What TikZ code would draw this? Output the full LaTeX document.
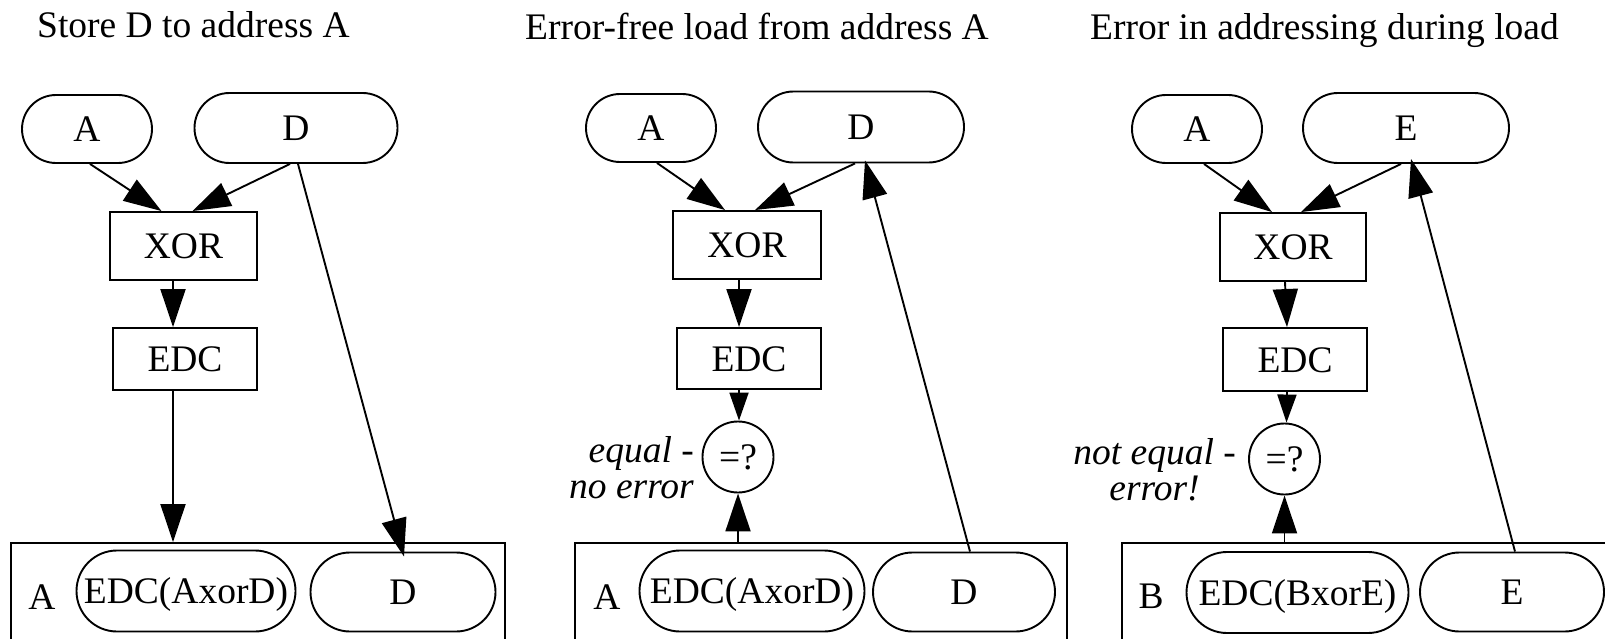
\documentclass[tikz,border=0pt]{standalone}
\usepackage{fontspec}
\setmainfont{Liberation Serif}
\usetikzlibrary{shapes.misc,arrows.meta}

\begin{document}
\begin{tikzpicture}[x=1pt,y=-1pt,
  lw/.style={line width=1.9pt},
  every node/.style={font=\fontsize{37.5}{40}\selectfont},
  pill/.style={draw, lw, rounded rectangle, minimum height=68pt, inner sep=0pt,
               text height=25pt, text depth=0pt},
  lowpill/.style={pill, minimum height=81pt},
  op/.style={draw, lw, rectangle, inner sep=0pt, minimum height=66pt,
             text height=25pt, text depth=0pt},
  cmp/.style={draw, lw, circle, minimum size=71pt, inner sep=0pt,
              text height=25pt, text depth=0pt},
  mem/.style={draw, lw, rectangle, inner sep=0pt, minimum height=107pt},
  addr/.style={anchor=base, inner sep=0pt},
  title/.style={anchor=base west, inner sep=0pt},
  note/.style={font=\fontsize{37.5}{36}\selectfont\itshape, inner sep=0pt},
  flow/.style={lw, -{Triangle[length=38pt,width=25pt]}},
  shortflow/.style={lw, -{Triangle[length=28pt,width=19pt]}},
]
\useasboundingbox (0,0) rectangle (1605,639);
\clip (0,0) rectangle (1605,639);

% ---------------- store ----------------
\node[title] (T1) at (37,38) {Store D to address A};
\node[pill, minimum width=130pt] (A1) at (87,129) {A};
\node[pill, minimum width=203pt, minimum height=70pt] (D1) at (296,128) {D};
\node[op, minimum width=147pt, minimum height=68pt] (XOR1) at (183.5,246) {XOR};
\node[op, minimum width=144pt, minimum height=62pt] (EDC1) at (185,359) {EDC};
\node[mem, minimum width=494pt] (M1) at (258,596.5) {};
\node[addr] (a1) at (42,609) {A};
\node[lowpill, minimum width=219pt] (X1) at (186,591) {EDC(AxorD)};
\node[lowpill, minimum width=185pt, minimum height=79pt] (V1) at (403,592) {D};

\draw[flow] ([xshift=3pt]A1.south) -- ([xshift=-22pt]XOR1.north);
\draw[flow] ([xshift=-6pt]D1.south) -- ([xshift=9pt]XOR1.north);
\draw[flow] ([xshift=-10.5pt]XOR1.south) -- ([xshift=-12pt]EDC1.north);
\draw[flow] ([xshift=-12pt]EDC1.south) -- ([xshift=-12pt]EDC1.south |- M1.north);
\draw[flow] ([xshift=2pt]D1.south) -- ([xshift=1pt,yshift=-5pt]V1.north);

% ---------------- error-free load ----------------
\node[title] (T2) at (525,40) {Error-free load from address A};
\node[pill, minimum width=130pt] (A2) at (651,128) {A};
\node[pill, minimum width=206pt, minimum height=71pt] (D2) at (861,127) {D};
\node[op, minimum width=148pt, minimum height=68pt] (XOR2) at (747,245) {XOR};
\node[op, minimum width=144pt, minimum height=61pt] (EDC2) at (749,358.5) {EDC};
\node[cmp] (C2) at (738,457) {=?};
\node[note, anchor=east, align=right] (N2) at (694,468) {equal -\\no error};
\node[mem, minimum width=492pt] (M2) at (821,596.5) {};
\node[addr] (a2) at (607,609) {A};
\node[lowpill, minimum width=225pt] (X2) at (752,591) {EDC(AxorD)};
\node[lowpill, minimum width=182pt, minimum height=79pt] (V2) at (964,592) {D};

\draw[flow] ([xshift=6pt]A2.south) -- ([xshift=-22pt]XOR2.north);
\draw[flow] ([xshift=-6pt]D2.south) -- ([xshift=8pt]XOR2.north);
\draw[flow] ([xshift=-8pt]XOR2.south) -- ([xshift=-10pt]EDC2.north);
\draw[shortflow] ([xshift=-10pt]EDC2.south) -- ([xshift=1pt]C2.north);
\draw[flow] (C2.south |- M2.north) -- (C2.south);
\draw[flow] ([xshift=6pt]V2.north) -- ([xshift=4pt,yshift=3pt]D2.south);

% ---------------- faulty address ----------------
\node[title] (T3) at (1090,40) {Error in addressing during load};
\node[pill, minimum width=130pt] (A3) at (1197,129) {A};
\node[pill, minimum width=206pt, minimum height=70pt] (E3) at (1406,128) {E};
\node[op, minimum width=146pt, minimum height=68pt] (XOR3) at (1293,247) {XOR};
\node[op, minimum width=144pt, minimum height=63pt] (EDC3) at (1295,359.5) {EDC};
\node[cmp] (C3) at (1284.5,459) {=?};
\node[note, anchor=east, align=center] (N3) at (1236,470) {not equal -\\error!};
\node[mem, minimum width=500pt] (M3) at (1372,596.5) {};
\node[addr] (a3) at (1151,608) {B};
\node[lowpill, minimum width=222pt] (X3) at (1297.5,592.5) {EDC(BxorE)};
\node[lowpill, minimum width=184pt, minimum height=79pt] (V3) at (1512,592) {E};

\draw[flow] ([xshift=7pt]A3.south) -- ([xshift=-21pt]XOR3.north);
\draw[flow] ([xshift=-5pt]E3.south) -- ([xshift=8pt]XOR3.north);
\draw[flow] ([xshift=-8pt]XOR3.south) -- ([xshift=-8pt]EDC3.north);
\draw[shortflow] ([xshift=-8pt]EDC3.south) -- ([xshift=2pt]C3.north);
\draw[flow] (C3.south |- M3.north) -- (C3.south);
\draw[flow] ([xshift=3pt]V3.north) -- ([xshift=5pt,yshift=5pt]E3.south);
\end{tikzpicture}
\end{document}
